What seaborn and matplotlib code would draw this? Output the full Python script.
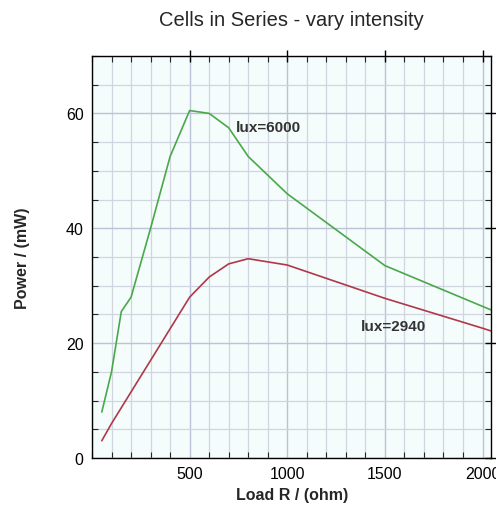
import seaborn as sns
import matplotlib.pyplot as plt
import pandas as pd
from matplotlib.ticker import MultipleLocator

# data
load_6000 = [50, 100, 150, 200, 300, 400, 500, 600, 700, 800, 1000, 1300, 1500, 2000, 2100]
power_6000 = [8, 15, 25.5, 28, 40, 52.5, 60.5, 60, 57.5, 52.5, 46, 38.5, 33.5, 26.4, 25]
load_2940 = [50, 100, 200, 300, 400, 500, 600, 700, 800, 1000, 1500, 2000, 2100]
power_2940 = [3, 6, 11.5, 17, 22.5, 28, 31.5, 33.8, 34.7, 33.6, 27.8, 22.6, 21.5]

df = pd.concat([
    pd.DataFrame({"load": load_6000, "power": power_6000, "lux": "lux=6000"}),
    pd.DataFrame({"load": load_2940, "power": power_2940, "lux": "lux=2940"}),
])

sns.set_style("white")
plt.rcParams['font.family'] = ['Liberation Sans', 'DejaVu Sans']

fig = plt.figure(figsize=(4.96, 5.06), dpi=100)
ax = fig.add_axes([0.1855, 0.0929, 0.805, 0.7945])
ax.set_facecolor("#f4fcfc")

sns.lineplot(data=df, x="load", y="power", hue="lux", sort=False,
             palette={"lux=6000": "#4aa84a", "lux=2940": "#b03848"},
             linewidth=1.2, legend=False, ax=ax)

ax.set_xlim(0, 2045)
ax.set_ylim(0, 70)
ax.xaxis.set_minor_locator(MultipleLocator(100))
ax.yaxis.set_minor_locator(MultipleLocator(5))
ax.set_xticks([500, 1000, 1500, 2000])
ax.set_yticks([0, 20, 40, 60])

ax.grid(which="minor", color="#d0d5e0", linewidth=0.9)
ax.grid(which="major", color="#bcc3d8", linewidth=1.0)
ax.set_axisbelow(True)

ax.tick_params(which="major", direction="inout", length=8, width=1, colors="black",
               top=True, right=True, labelsize=11.5, pad=2)
ax.tick_params(which="minor", direction="in", length=4, width=0.8,
               top=True, right=True, bottom=True, left=True)
for s in ax.spines.values():
    s.set_color("black")
    s.set_linewidth(1)

ax.text(735, 57.7, "lux=6000", fontsize=11, fontweight="bold", color="#333333", va="center")
ax.text(1375, 23, "lux=2940", fontsize=11, fontweight="bold", color="#333333", va="center")

ax.set_xlabel("Load R / (ohm)", fontsize=11.5, fontweight="bold", labelpad=4)
ax.set_ylabel("Power / (mW)", fontsize=11.5, fontweight="bold", labelpad=26)
fig.text(0.588, 0.96, "Cells in Series - vary intensity", fontsize=14.5, ha="center", va="center")

fig.savefig("out.png", dpi=100)
